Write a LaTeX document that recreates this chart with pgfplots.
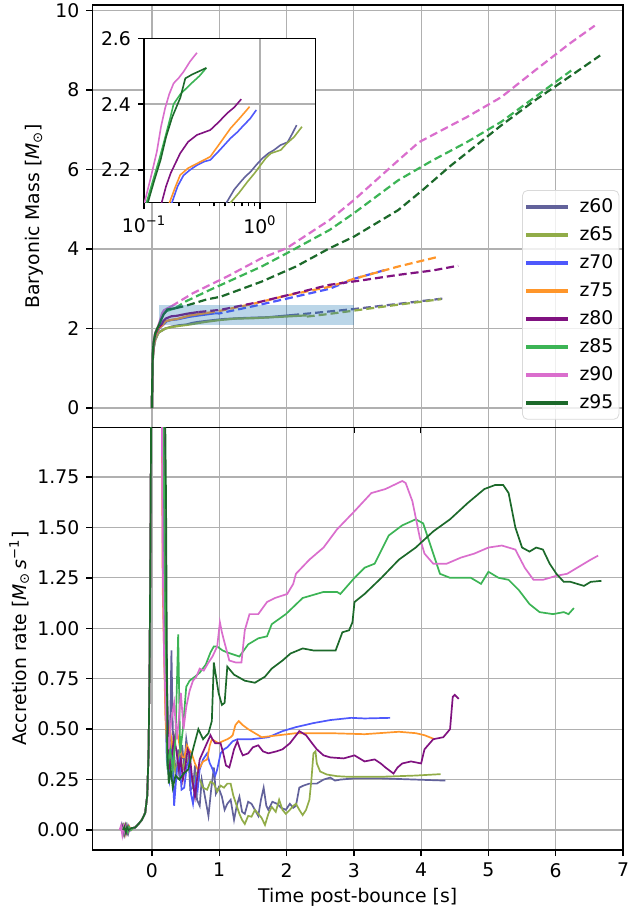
\documentclass[border=0pt]{standalone}
\usepackage{fontspec}
\setmainfont{DejaVu Sans}
\usepackage{pgfplots}
\pgfplotsset{compat=1.18}
\definecolor{c60}{RGB}{98,98,155}
\definecolor{c65}{RGB}{145,172,72}
\definecolor{c70}{RGB}{78,88,252}
\definecolor{c75}{RGB}{255,150,42}
\definecolor{c80}{RGB}{128,18,128}
\definecolor{c85}{RGB}{60,180,85}
\definecolor{c90}{RGB}{218,110,205}
\definecolor{c95}{RGB}{28,105,42}
\definecolor{gridc}{RGB}{176,176,176}
\definecolor{rectc}{RGB}{31,119,180}
\newcommand{\fs}{\fontsize{9.4}{11}\selectfont}
\pgfplotsset{
  base/.style={scale only axis, tick align=outside, tick pos=left,
    major tick length=3pt, minor tick length=1.8pt,
    grid=major, grid style={gridc, line width=0.6pt},
    axis line style={line width=0.7pt},
    every tick/.style={black, line width=0.7pt},
    tick label style={font=\fs}, label style={font=\fs},
    /pgf/number format/assume math mode=true},
  sol/.style={line width=1.1pt, forget plot},
  das/.style={line width=1.1pt, dash pattern=on 4pt off 2pt, forget plot},
  ins/.style={line width=0.8pt, forget plot},
  acc/.style={line width=0.85pt, forget plot},
}
\begin{document}
\begin{tikzpicture}
\useasboundingbox (-46.15pt,-242.75pt) rectangle (267.35pt,213.75pt);
% ---------------- top panel ----------------
\begin{axis}[base, name=top, at={(0pt,0pt)}, anchor=south west,
  width=265.35pt, height=211.25pt,
  xmin=-0.886, xmax=7.0, ymin=-0.49, ymax=10.14,
  xtick={0,1,...,7}, xticklabels={}, ytick={0,2,4,6,8,10},
  ylabel={Baryonic Mass [\textit{M}\textsubscript{⊙}]},
  ylabel style={at={(axis description cs:-0.1085,0.5)}, anchor=center},
  legend style={at={(0.993,0.0185)}, anchor=south east, draw=black!15,
    rounded corners=2.5pt, fill=white, fill opacity=0.8, text opacity=1, draw opacity=1,
    font=\fs, row sep=2pt, inner xsep=0.8pt, inner ysep=2.2pt,
    nodes={inner xsep=2pt, inner ysep=2pt, text height=6.8pt, text depth=1.2pt}},
  legend cell align=left,
  legend image code/.code={\draw[#1] (0pt,0pt) -- (21pt,0pt); \path (23.7pt,0pt);},
]
\addlegendimage{c60, line width=2pt}\addlegendentry{z60\hspace{4.2pt}}
\addlegendimage{c65, line width=2pt}\addlegendentry{z65\hspace{4.2pt}}
\addlegendimage{c70, line width=2pt}\addlegendentry{z70\hspace{4.2pt}}
\addlegendimage{c75, line width=2pt}\addlegendentry{z75\hspace{4.2pt}}
\addlegendimage{c80, line width=2pt}\addlegendentry{z80\hspace{4.2pt}}
\addlegendimage{c85, line width=2pt}\addlegendentry{z85\hspace{4.2pt}}
\addlegendimage{c90, line width=2pt}\addlegendentry{z90\hspace{4.2pt}}
\addlegendimage{c95, line width=2pt}\addlegendentry{z95\hspace{4.2pt}}
% z60
\addplot[sol, c60] coordinates {(0,0) (0.005,0.6) (0.012,1.2) (0.025,1.5) (0.05,1.72) (0.1,1.9) (0.2,2.0) (0.3,2.05) (0.4,2.08) (0.514,2.10) (0.60,2.14) (0.68,2.163) (0.83,2.194) (1.05,2.235) (1.32,2.26) (1.73,2.284) (2.07,2.336)};
\addplot[das, c60] coordinates {(2.07,2.336) (2.4,2.39) (3.0,2.49) (3.66,2.62) (4.35,2.76)};
% z65
\addplot[sol, c65] coordinates {(0,0) (0.005,0.6) (0.012,1.2) (0.025,1.5) (0.05,1.72) (0.1,1.9) (0.2,2.0) (0.3,2.04) (0.42,2.07) (0.557,2.10) (0.778,2.163) (1.01,2.214) (1.24,2.25) (1.51,2.26) (1.97,2.3) (2.3,2.331)};
\addplot[das, c65] coordinates {(2.3,2.30) (2.6,2.36) (3.0,2.45) (3.66,2.6) (4.3,2.74)};
% z70
\addplot[sol, c70] coordinates {(0,0) (0.005,0.6) (0.012,1.25) (0.025,1.55) (0.05,1.78) (0.1,1.98) (0.13,2.04) (0.174,2.10) (0.219,2.183) (0.286,2.214) (0.373,2.23) (0.557,2.296) (0.726,2.336) (0.93,2.382)};
\addplot[das, c70] coordinates {(0.93,2.382) (1.0,2.38) (1.5,2.56) (2.0,2.75) (2.64,3.0) (3.0,3.25) (3.46,3.47)};
% z75
\addplot[sol, c75] coordinates {(0,0) (0.005,0.6) (0.012,1.25) (0.025,1.55) (0.05,1.8) (0.1,2.0) (0.13,2.05) (0.166,2.10) (0.205,2.184) (0.286,2.219) (0.373,2.24) (0.557,2.326) (0.814,2.392)};
\addplot[das, c75] coordinates {(0.814,2.392) (1.0,2.44) (1.5,2.62) (2.0,2.83) (2.64,3.05) (3.0,3.25) (3.66,3.56) (4.22,3.79)};
% z80
\addplot[sol, c80] coordinates {(0,0) (0.005,0.6) (0.012,1.3) (0.025,1.6) (0.05,1.85) (0.1,2.03) (0.142,2.10) (0.17,2.19) (0.205,2.25) (0.286,2.306) (0.373,2.321) (0.521,2.372) (0.69,2.415)};
\addplot[das, c80] coordinates {(0.69,2.415) (1.02,2.47) (1.63,2.68) (2.14,2.89) (2.64,3.1) (3.15,3.22) (3.66,3.35) (4.17,3.46) (4.55,3.58)};
% z85
\addplot[sol, c85] coordinates {(0,0) (0.005,0.6) (0.012,1.35) (0.025,1.65) (0.05,1.88) (0.08,2.0) (0.105,2.10) (0.135,2.23) (0.169,2.36) (0.18,2.40) (0.206,2.43) (0.251,2.46) (0.345,2.51)};
\addplot[das, c85] coordinates {(0.345,2.51) (0.5,2.68) (0.86,2.97) (1.63,3.56) (2.0,3.89) (2.64,4.48) (3.0,4.9) (3.66,5.73) (4.17,6.23) (4.68,6.69) (5.19,7.2) (5.69,7.82) (6.23,8.49)};
% z90
\addplot[sol, c90] coordinates {(0,0) (0.005,0.6) (0.012,1.35) (0.025,1.68) (0.05,1.9) (0.08,2.0) (0.101,2.10) (0.129,2.255) (0.152,2.387) (0.18,2.463) (0.219,2.498) (0.286,2.556)};
\addplot[das, c90] coordinates {(0.286,2.556) (0.61,2.89) (1.12,3.31) (1.63,3.77) (2.0,4.02) (2.64,4.73) (3.0,5.23) (3.66,6.23) (3.97,6.69) (4.68,7.32) (5.19,7.82) (5.69,8.49) (6.2,9.16) (6.58,9.62)};
% z95
\addplot[sol, c95] coordinates {(0,0) (0.005,0.6) (0.012,1.35) (0.025,1.65) (0.05,1.88) (0.08,2.0) (0.108,2.10) (0.139,2.23) (0.175,2.36) (0.206,2.42) (0.227,2.478) (0.26,2.49) (0.349,2.51)};
\addplot[das, c95] coordinates {(0.349,2.51) (0.5,2.57) (0.81,2.73) (1.02,2.8) (1.31,2.98) (1.63,3.18) (2.14,3.56) (2.64,4.02) (3.0,4.31) (3.66,4.98) (4.02,5.48) (4.42,6.07) (5.19,7.11) (5.69,7.74) (6.2,8.33) (6.66,8.87)};
\fill[rectc, fill opacity=0.3] (axis cs:0.1,2.1) rectangle (axis cs:3,2.6);
\end{axis}
% ---------------- inset ----------------
\begin{axis}[base, at={(25.85pt,194.6pt)}, anchor=north west,
  width=85.65pt, height=82.2pt, xmode=log,
  xmin=0.1, xmax=3.0, ymin=2.1, ymax=2.6,
  axis background/.style={fill=white},
  xtick={0.1,1}, xticklabels={10\textsuperscript{−1},10\textsuperscript{0}},
  ytick={2.2,2.4,2.6}, yticklabels={2.2,2.4,2.6},
]
\addplot[ins, c60] coordinates {(0.48,2.07) (0.514,2.10) (0.60,2.14) (0.68,2.163) (0.75,2.18) (0.83,2.194) (0.93,2.215) (1.05,2.235) (1.18,2.25) (1.32,2.26) (1.5,2.275) (1.73,2.284) (1.9,2.31) (2.07,2.336)};
\addplot[ins, c65] coordinates {(0.52,2.07) (0.557,2.10) (0.66,2.13) (0.778,2.163) (0.9,2.19) (1.01,2.214) (1.12,2.235) (1.24,2.25) (1.51,2.26) (1.7,2.28) (1.97,2.3) (2.3,2.331)};
\addplot[ins, c70] coordinates {(0.165,2.08) (0.174,2.10) (0.195,2.15) (0.219,2.183) (0.25,2.20) (0.286,2.214) (0.33,2.225) (0.373,2.23) (0.45,2.26) (0.557,2.296) (0.64,2.315) (0.726,2.336) (0.82,2.355) (0.93,2.382)};
\addplot[ins, c75] coordinates {(0.158,2.08) (0.166,2.10) (0.185,2.145) (0.205,2.184) (0.24,2.205) (0.286,2.219) (0.33,2.23) (0.373,2.24) (0.45,2.28) (0.557,2.326) (0.68,2.36) (0.814,2.392)};
\addplot[ins, c80] coordinates {(0.135,2.07) (0.142,2.10) (0.155,2.15) (0.17,2.19) (0.205,2.25) (0.24,2.285) (0.286,2.306) (0.373,2.321) (0.44,2.345) (0.521,2.372) (0.6,2.39) (0.69,2.415)};
\addplot[ins, c85] coordinates {(0.1,2.06) (0.105,2.10) (0.12,2.17) (0.135,2.23) (0.15,2.29) (0.169,2.36) (0.18,2.40) (0.206,2.43) (0.251,2.46) (0.3,2.485) (0.345,2.51)};
\addplot[ins, c90] coordinates {(0.097,2.07) (0.101,2.10) (0.115,2.18) (0.129,2.255) (0.14,2.33) (0.152,2.387) (0.165,2.43) (0.18,2.463) (0.2,2.48) (0.219,2.498) (0.25,2.53) (0.286,2.556)};
\addplot[ins, c95] coordinates {(0.102,2.06) (0.108,2.10) (0.122,2.165) (0.139,2.23) (0.155,2.30) (0.175,2.36) (0.206,2.42) (0.227,2.478) (0.26,2.49) (0.3,2.50) (0.345,2.51)};
\end{axis}
% ---------------- bottom panel ----------------
\begin{axis}[base, name=bot, at={(0pt,0pt)}, anchor=north west,
  width=265.35pt, height=211.25pt,
  xmin=-0.886, xmax=7.0, ymin=-0.099, ymax=1.995,
  xtick={0,1,...,7},
  ytick={0,0.25,0.5,0.75,1,1.25,1.5,1.75},
  yticklabels={0.00,0.25,0.50,0.75,1.00,1.25,1.50,1.75},
  xlabel={Time post-bounce [s]},
  xlabel style={at={(axis description cs:0.5,0)}, anchor=center, yshift=-23.5pt},
  ylabel={Accretion rate [\textit{M}\textsubscript{⊙}\,\textit{s}\textsuperscript{−1}]},
  ylabel style={at={(axis description cs:-0.1377,0.5)}, anchor=center},
]
\addplot[acc, c60] coordinates {(-0.47,0) (-0.45,0.025) (-0.43,-0.02) (-0.41,0.015) (-0.39,-0.01) (-0.37,0.02) (-0.35,-0.015) (-0.33,0.01) (-0.3,0.005) (-0.25,0.012) (-0.2,0.03) (-0.15,0.05) (-0.1,0.085) (-0.07,0.17) (-0.05,0.38) (-0.035,0.8) (-0.02,1.5) (-0.005,2.5) (0.05,4) (0.12,4) (0.2,1.2) (0.24,0.5) (0.26,0.3) (0.29,0.89) (0.31,0.5) (0.33,0.38) (0.36,0.25) (0.39,0.4) (0.41,0.25) (0.45,0.42) (0.48,0.3) (0.51,0.45) (0.54,0.38) (0.57,0.2) (0.61,0.21) (0.64,0.32) (0.67,0.15) (0.71,0.12) (0.74,0.25) (0.78,0.18) (0.84,0.07) (0.88,0.2) (0.92,0.31) (0.95,0.18) (0.99,0.21) (1.04,0.165) (1.08,0.1) (1.12,0.13) (1.17,0.15) (1.22,0.05) (1.26,0.12) (1.3,0.165) (1.34,0.09) (1.38,0.08) (1.43,0.14) (1.48,0.13) (1.53,0.1) (1.58,0.07) (1.62,0.15) (1.66,0.21) (1.7,0.12) (1.73,0.1) (1.79,0.14) (1.86,0.13) (1.92,0.11) (1.99,0.10) (2.05,0.13) (2.1,0.11) (2.14,0.12) (2.19,0.21) (2.25,0.22) (2.34,0.23) (2.45,0.23) (2.55,0.25) (2.65,0.26) (2.72,0.245) (2.8,0.25) (3.01,0.256) (3.41,0.256) (3.92,0.25) (4.36,0.245)};
\addplot[acc, c65] coordinates {(-0.46,0) (-0.44,0.02) (-0.42,-0.015) (-0.4,0.02) (-0.38,-0.01) (-0.36,0.015) (-0.33,0.0) (-0.3,0.01) (-0.25,0.012) (-0.2,0.03) (-0.15,0.05) (-0.1,0.085) (-0.07,0.17) (-0.05,0.38) (-0.035,0.8) (-0.02,1.5) (-0.005,2.5) (0.05,4) (0.13,4) (0.2,1.0) (0.23,0.38) (0.27,0.3) (0.3,0.42) (0.35,0.28) (0.41,0.38) (0.46,0.3) (0.51,0.36) (0.56,0.30) (0.61,0.22) (0.66,0.28) (0.71,0.25) (0.76,0.21) (0.82,0.2) (0.87,0.24) (0.92,0.23) (0.97,0.19) (1.02,0.22) (1.07,0.21) (1.12,0.23) (1.17,0.23) (1.21,0.17) (1.25,0.13) (1.3,0.08) (1.34,0.05) (1.38,0.03) (1.43,0.07) (1.48,0.066) (1.53,0.1) (1.58,0.08) (1.63,0.06) (1.68,0.025) (1.73,0.08) (1.78,0.115) (1.84,0.09) (1.89,0.15) (1.94,0.1) (1.99,0.08) (2.05,0.1) (2.1,0.12) (2.14,0.13) (2.19,0.1) (2.24,0.074) (2.29,0.1) (2.34,0.15) (2.37,0.25) (2.4,0.38) (2.43,0.39) (2.45,0.33) (2.5,0.29) (2.6,0.275) (2.75,0.267) (2.91,0.264) (3.41,0.264) (3.92,0.27) (4.29,0.277)};
\addplot[acc, c70] coordinates {(-0.45,0) (-0.43,0.02) (-0.41,-0.02) (-0.39,0.015) (-0.37,-0.01) (-0.35,0.02) (-0.32,0.0) (-0.3,0.01) (-0.25,0.012) (-0.2,0.03) (-0.15,0.05) (-0.1,0.085) (-0.07,0.17) (-0.05,0.38) (-0.035,0.8) (-0.02,1.5) (-0.005,2.5) (0.05,4) (0.12,4) (0.19,0.8) (0.22,0.35) (0.26,0.25) (0.3,0.4) (0.33,0.12) (0.37,0.3) (0.41,0.35) (0.44,0.2) (0.48,0.21) (0.52,0.32) (0.56,0.35) (0.58,0.18) (0.61,0.13) (0.65,0.25) (0.68,0.2) (0.71,0.30) (0.76,0.35) (0.82,0.38) (0.86,0.33) (0.89,0.31) (0.94,0.27) (0.97,0.30) (1.02,0.38) (1.07,0.4) (1.12,0.41) (1.2,0.44) (1.27,0.45) (1.48,0.45) (1.73,0.46) (1.94,0.49) (2.14,0.51) (2.4,0.53) (2.65,0.545) (2.96,0.556) (3.16,0.553) (3.54,0.556)};
\addplot[acc, c75] coordinates {(-0.44,0) (-0.42,0.02) (-0.4,-0.02) (-0.38,0.015) (-0.36,-0.01) (-0.34,0.02) (-0.31,0.0) (-0.28,0.01) (-0.25,0.012) (-0.2,0.03) (-0.15,0.05) (-0.1,0.085) (-0.07,0.17) (-0.05,0.38) (-0.035,0.8) (-0.02,1.5) (-0.005,2.5) (0.05,4) (0.12,4) (0.16,1.2) (0.2,0.56) (0.23,0.38) (0.27,0.5) (0.3,0.42) (0.34,0.45) (0.38,0.48) (0.42,0.4) (0.45,0.36) (0.48,0.36) (0.52,0.42) (0.55,0.4) (0.59,0.38) (0.64,0.33) (0.68,0.3) (0.71,0.31) (0.76,0.34) (0.82,0.35) (0.86,0.42) (0.89,0.45) (0.94,0.44) (0.99,0.43) (1.05,0.44) (1.12,0.45) (1.17,0.46) (1.2,0.47) (1.24,0.52) (1.29,0.54) (1.35,0.52) (1.43,0.5) (1.53,0.48) (1.63,0.46) (1.89,0.47) (2.14,0.48) (2.65,0.48) (3.16,0.475) (3.67,0.487) (3.92,0.48) (4.05,0.47) (4.2,0.45)};
\addplot[acc, c80] coordinates {(-0.45,0) (-0.43,0.02) (-0.41,-0.015) (-0.39,0.02) (-0.37,-0.015) (-0.35,0.015) (-0.33,0.0) (-0.3,0.01) (-0.25,0.012) (-0.2,0.03) (-0.15,0.05) (-0.1,0.085) (-0.07,0.17) (-0.05,0.38) (-0.035,0.8) (-0.02,1.5) (-0.005,2.5) (0.05,4) (0.13,4) (0.2,1.0) (0.24,0.45) (0.27,0.3) (0.3,0.38) (0.33,0.46) (0.36,0.4) (0.4,0.3) (0.43,0.35) (0.46,0.25) (0.5,0.32) (0.53,0.4) (0.56,0.38) (0.6,0.25) (0.64,0.165) (0.67,0.25) (0.71,0.35) (0.75,0.38) (0.79,0.41) (0.83,0.44) (0.87,0.47) (0.9,0.45) (0.94,0.43) (1.02,0.43) (1.06,0.38) (1.1,0.32) (1.15,0.31) (1.19,0.36) (1.22,0.40) (1.27,0.44) (1.31,0.4) (1.35,0.37) (1.43,0.38) (1.5,0.41) (1.58,0.42) (1.65,0.39) (1.73,0.38) (1.85,0.39) (1.94,0.40) (2.05,0.43) (2.12,0.46) (2.19,0.49) (2.29,0.47) (2.38,0.43) (2.45,0.40) (2.55,0.37) (2.65,0.36) (2.85,0.355) (3.01,0.37) (3.16,0.34) (3.31,0.35) (3.4,0.33) (3.47,0.31) (3.59,0.28) (3.65,0.31) (3.72,0.33) (3.85,0.34) (4.0,0.33) (4.05,0.40) (4.18,0.45) (4.33,0.46) (4.43,0.50) (4.47,0.66) (4.5,0.67) (4.56,0.65)};
\addplot[acc, c85] coordinates {(-0.44,0) (-0.42,0.02) (-0.4,-0.015) (-0.38,0.02) (-0.36,-0.01) (-0.34,0.015) (-0.31,0.0) (-0.28,0.01) (-0.25,0.012) (-0.2,0.03) (-0.15,0.05) (-0.1,0.085) (-0.07,0.17) (-0.05,0.38) (-0.035,0.8) (-0.02,1.5) (-0.005,2.5) (0.05,4) (0.12,4) (0.2,0.9) (0.23,0.3) (0.27,0.4) (0.31,0.3) (0.35,0.45) (0.39,0.97) (0.42,0.38) (0.46,0.5) (0.51,0.71) (0.56,0.74) (0.64,0.76) (0.71,0.78) (0.8,0.82) (0.87,0.88) (0.92,0.91) (0.97,0.91) (1.05,0.89) (1.12,0.88) (1.3,0.86) (1.43,0.92) (1.58,0.95) (1.71,0.96) (1.78,1.02) (1.99,1.07) (2.24,1.15) (2.55,1.18) (2.75,1.18) (2.8,1.17) (3.01,1.25) (3.16,1.30) (3.31,1.32) (3.52,1.46) (3.72,1.51) (3.92,1.54) (4.03,1.52) (4.13,1.42) (4.28,1.27) (4.43,1.25) (4.59,1.25) (4.74,1.25) (4.89,1.22) (5.0,1.28) (5.15,1.25) (5.3,1.24) (5.45,1.19) (5.61,1.12) (5.76,1.08) (5.96,1.07) (6.12,1.08) (6.19,1.07) (6.27,1.10)};
\addplot[acc, c90] coordinates {(-0.48,0) (-0.46,0.02) (-0.44,-0.025) (-0.42,0.015) (-0.4,-0.01) (-0.38,0.02) (-0.35,0.0) (-0.3,0.01) (-0.25,0.012) (-0.2,0.03) (-0.15,0.05) (-0.1,0.085) (-0.07,0.17) (-0.05,0.38) (-0.035,0.8) (-0.02,1.5) (-0.005,2.5) (0.05,4) (0.1,4) (0.14,2.5) (0.16,1.34) (0.18,0.87) (0.21,0.55) (0.25,0.4) (0.29,0.55) (0.33,0.63) (0.37,0.45) (0.4,0.55) (0.43,0.68) (0.47,0.5) (0.51,0.61) (0.56,0.69) (0.61,0.74) (0.66,0.76) (0.71,0.8) (0.77,0.79) (0.84,0.83) (0.9,0.86) (0.97,0.91) (1.01,1.03) (1.04,0.98) (1.07,0.94) (1.15,0.84) (1.25,0.83) (1.33,0.83) (1.38,0.99) (1.45,1.07) (1.58,1.07) (1.71,1.13) (1.83,1.15) (2.01,1.17) (2.1,1.22) (2.14,1.27) (2.34,1.34) (2.55,1.40) (2.75,1.49) (3.01,1.58) (3.26,1.67) (3.47,1.69) (3.72,1.73) (3.77,1.72) (3.87,1.63) (3.98,1.45) (4.05,1.37) (4.18,1.32) (4.38,1.32) (4.59,1.35) (4.79,1.37) (5.0,1.40) (5.2,1.41) (5.4,1.39) (5.54,1.30) (5.67,1.24) (5.81,1.24) (6.01,1.26) (6.17,1.27) (6.32,1.30) (6.52,1.34) (6.63,1.36)};
\addplot[acc, c95] coordinates {(-0.43,0) (-0.41,0.015) (-0.39,-0.01) (-0.37,0.015) (-0.35,0.0) (-0.3,0.01) (-0.25,0.012) (-0.2,0.03) (-0.15,0.05) (-0.1,0.085) (-0.07,0.17) (-0.05,0.38) (-0.035,0.8) (-0.02,1.5) (-0.005,2.5) (0.05,4) (0.14,4) (0.21,1.63) (0.23,0.38) (0.25,0.23) (0.28,0.3) (0.31,0.21) (0.35,0.27) (0.41,0.25) (0.47,0.28) (0.54,0.30) (0.61,0.40) (0.69,0.50) (0.76,0.45) (0.84,0.48) (0.89,0.54) (0.92,0.83) (0.99,0.68) (1.04,0.62) (1.08,0.63) (1.12,0.81) (1.22,0.77) (1.38,0.74) (1.53,0.73) (1.68,0.76) (1.78,0.80) (1.94,0.84) (2.06,0.875) (2.24,0.9) (2.4,0.89) (2.55,0.89) (2.73,0.89) (2.83,0.98) (2.93,0.99) (2.98,1.03) (3.01,1.13) (3.16,1.17) (3.41,1.25) (3.67,1.34) (3.92,1.40) (4.18,1.48) (4.43,1.54) (4.69,1.62) (4.94,1.69) (5.1,1.71) (5.22,1.71) (5.3,1.67) (5.4,1.50) (5.5,1.40) (5.61,1.38) (5.71,1.40) (5.81,1.39) (5.91,1.32) (6.01,1.27) (6.12,1.23) (6.22,1.23) (6.32,1.22) (6.42,1.21) (6.52,1.23) (6.68,1.235)};
\end{axis}
\end{tikzpicture}
\end{document}
